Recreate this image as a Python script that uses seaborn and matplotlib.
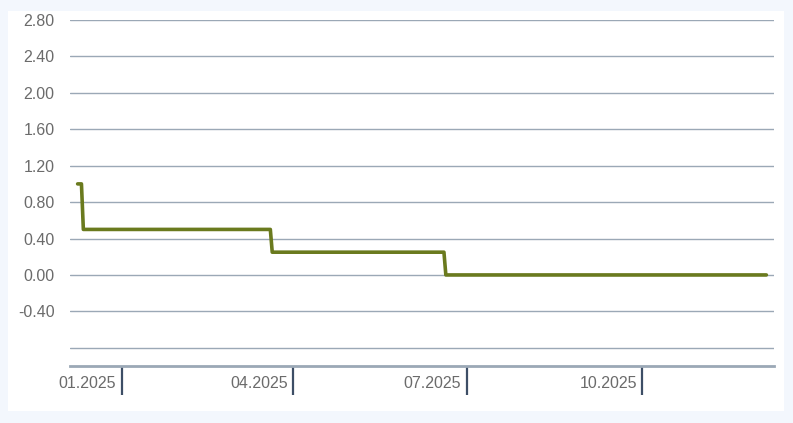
import pandas as pd
import seaborn as sns
import matplotlib.pyplot as plt
import matplotlib.dates as mdates
from matplotlib.transforms import ScaledTranslation
from matplotlib.patches import Rectangle

# step points of the policy rate (%)
dates = ['2024-12-09', '2024-12-11', '2024-12-12', '2025-03-20', '2025-03-21',
         '2025-06-19', '2025-06-20', '2025-12-05']
rates = [1.00, 1.00, 0.50, 0.50, 0.25, 0.25, 0.00, 0.00]
y_ticks = [-0.8, -0.4, 0.0, 0.4, 0.8, 1.2, 1.6, 2.0, 2.4, 2.8]
x_ticks = ['2025-01-01', '2025-04-01', '2025-07-01', '2025-10-01']
x_labels = ['01.2025', '04.2025', '07.2025', '10.2025']

if __name__ == '__main__':
    df = pd.DataFrame({'date': pd.to_datetime(dates), 'rate': rates})

    sns.set_style('white')
    plt.rcParams['font.family'] = ['Liberation Sans', 'DejaVu Sans']

    fig = plt.figure(figsize=(7.93, 4.23), dpi=100, facecolor='#f3f7fd')
    # white panel behind the chart
    fig.patches.append(Rectangle((8 / 793, 12 / 423), 776 / 793, 400 / 423,
                                 transform=fig.transFigure, facecolor='white',
                                 edgecolor='none', zorder=-10))
    ax = fig.add_axes([70 / 793, 57 / 423, 704 / 793, 346 / 423])
    ax.set_facecolor('white')

    sns.lineplot(data=df, x='date', y='rate', color='#6a7a1e', linewidth=2.6,
                 ax=ax, zorder=3)

    ax.set_xlim(pd.Timestamp('2024-12-05'), pd.Timestamp('2025-12-09'))
    ax.set_ylim(-1.0, 2.8)
    ax.set_yticks(y_ticks)
    ax.set_yticklabels(['' if abs(v + 0.8) < 1e-9 else f'{v:.2f}' for v in y_ticks])
    ax.grid(axis='y', color='#9ba8b6', linewidth=1)
    ax.set_axisbelow(True)
    ax.tick_params(axis='y', left=False, length=0, pad=11, labelsize=11.5,
                   labelcolor='#6b6b6b')

    ax.set_xticks(pd.to_datetime(x_ticks))
    ax.set_xticklabels([])
    ax.tick_params(axis='x', bottom=True, direction='out', length=21, width=1.6,
                   color='#3d4e66')
    off = ScaledTranslation(-4 / 72, -7.5 / 72, fig.dpi_scale_trans)
    for d, lab in zip(pd.to_datetime(x_ticks), x_labels):
        ax.text(mdates.date2num(d), 0, lab, transform=ax.get_xaxis_transform() + off,
                ha='right', va='top', fontsize=11.5, color='#6b6b6b')

    for s in ['top', 'right', 'left']:
        ax.spines[s].set_visible(False)
    ax.spines['bottom'].set_color('#9ba8b6')
    ax.spines['bottom'].set_linewidth(2)

    ax.set_xlabel('')
    ax.set_ylabel('')

    plt.savefig('out.png', facecolor=fig.get_facecolor())
